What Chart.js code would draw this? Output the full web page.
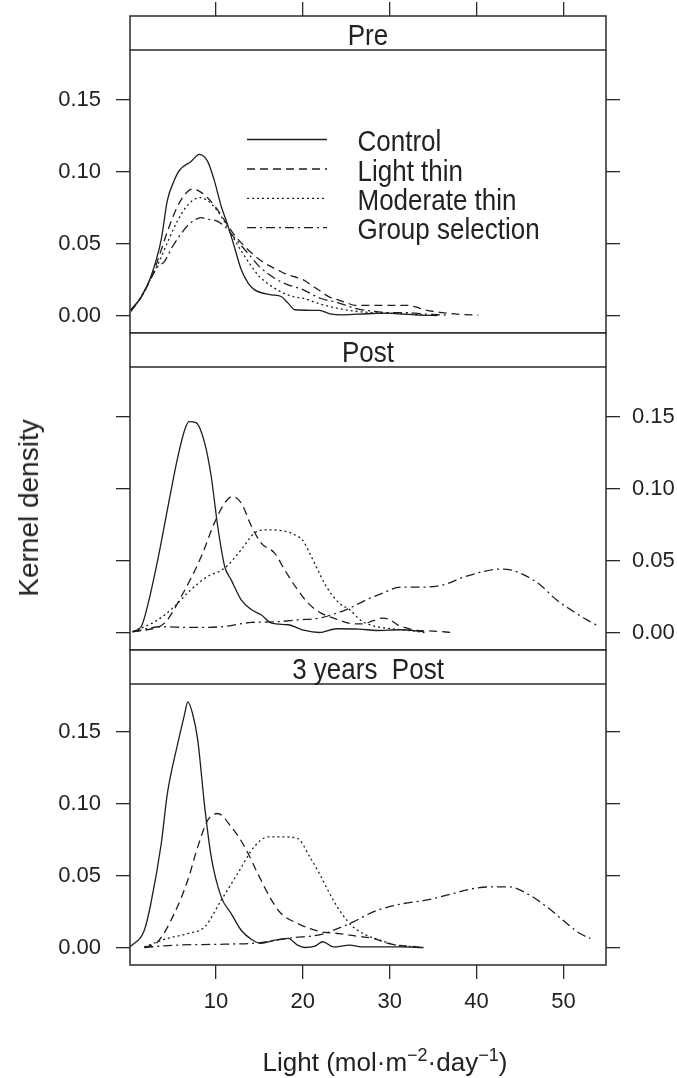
<!DOCTYPE html>
<html><head><meta charset="utf-8">
<script src="https://cdn.jsdelivr.net/npm/chart.js@4.4.1/dist/chart.umd.min.js"></script>
<style>
html,body{margin:0;padding:0;background:#fff;}
#wrap{position:relative;width:677px;height:1078px;overflow:hidden;background:#fff;}
#wrap canvas{position:absolute;left:0;top:0;}
.ttl{position:absolute;font-family:"Liberation Sans",Arial,sans-serif;color:#222;white-space:nowrap;line-height:1;}
#ytitle{left:29px;top:508px;font-size:28px;transform:translate(-50%,-50%) rotate(-90deg);}
#xtitle{left:385px;top:1062px;font-size:26px;transform:translate(-50%,-50%);}
#xtitle sup{font-size:18px;vertical-align:0.55em;line-height:0;}
</style></head>
<body><div id="wrap">
<canvas id="c0" width="677" height="1078"></canvas>
<canvas id="c1" width="677" height="1078"></canvas>
<canvas id="c2" width="677" height="1078"></canvas>
<div id="ytitle" class="ttl">Kernel density</div>
<div id="xtitle" class="ttl">Light (mol·m<sup>−2</sup>·day<sup>−1</sup>)</div>
</div>
<script>
const seriesNames = ['Control', 'Light thin', 'Moderate thin', 'Group selection'];
const panelTitles = ['Pre', 'Post', '3 years  Post'];
const xTickValues = [10, 20, 30, 40, 50];
const yTickValues = [0, 0.05, 0.10, 0.15];

// ---- Pre ----
const preControlX = [0.2, 1.4, 2.5, 3.7, 4.4, 5.2, 5.8, 7.1, 8.1, 9.05, 9.8, 10.6, 11.4, 12.1, 12.9, 13.7, 14.4, 16.4, 17.5, 18.3, 19.1, 21.9, 23.1, 24.6, 27.3, 29.6, 31.2, 33.5, 35.5];
const preControlY = [0.004, 0.013, 0.027, 0.053, 0.080, 0.094, 0.101, 0.107, 0.112, 0.107, 0.094, 0.076, 0.062, 0.048, 0.032, 0.0225, 0.018, 0.0144, 0.0132, 0.0086, 0.004, 0.0035, 0.0012, 0.0005, 0.0012, 0.0017, 0.0012, 0.0002, 0];
const preLightX = [0.2, 1.4, 2.6, 3.5, 4.5, 5.5, 6.4, 7.3, 8.2, 9, 10, 11, 12, 13, 14, 15, 16, 17, 18, 19, 20, 21, 22, 23, 24, 25, 26, 28, 30, 32, 33, 34, 36, 38, 40.2];
const preLightY = [0.003, 0.013, 0.027, 0.042, 0.060, 0.075, 0.084, 0.088, 0.086, 0.082, 0.075, 0.066, 0.057, 0.050, 0.044, 0.039, 0.035, 0.032, 0.029, 0.027, 0.025, 0.021, 0.017, 0.013, 0.011, 0.009, 0.007, 0.007, 0.007, 0.007, 0.006, 0.004, 0.002, 0.0008, 0.0003];
const preModerateX = [0.2, 1.4, 2.6, 3.5, 4.5, 5.5, 6.5, 7.3, 8.2, 9, 10, 11, 12, 13, 14, 15, 16, 17, 18, 19, 20, 22, 24, 26, 28, 30, 32, 34];
const preModerateY = [0.003, 0.013, 0.027, 0.038, 0.052, 0.065, 0.075, 0.080, 0.082, 0.080, 0.074, 0.065, 0.054, 0.044, 0.035, 0.027, 0.022, 0.018, 0.015, 0.013, 0.012, 0.008, 0.005, 0.003, 0.002, 0.0015, 0.001, 0.0003];
const preGroupX = [0.2, 1.4, 2.6, 3.4, 4.0, 5, 6, 7, 8.3, 9, 10, 11, 12, 13, 14, 15, 16, 17, 18, 19, 20, 22, 24, 26, 28, 30, 32, 34, 36.5];
const preGroupY = [0.003, 0.013, 0.027, 0.035, 0.037, 0.048, 0.057, 0.064, 0.068, 0.067, 0.066, 0.062, 0.055, 0.048, 0.041, 0.034, 0.029, 0.025, 0.022, 0.020, 0.018, 0.012, 0.009, 0.005, 0.003, 0.002, 0.002, 0.001, 0.0003];

// ---- Post ----
const postControlX = [0.4, 1.4, 2.1, 3.3, 4.4, 5.6, 6.4, 6.9, 7.7, 8.7, 9.45, 10.2, 11.0, 11.75, 12.9, 14.1, 15.2, 16.4, 18.3, 20.2, 21.9, 23.9, 26.5, 28.5, 31.2, 33.9];
const postControlY = [0.0007, 0.0042, 0.018, 0.0506, 0.0853, 0.122, 0.141, 0.1467, 0.146, 0.1317, 0.1085, 0.0737, 0.0459, 0.0366, 0.0227, 0.0158, 0.0123, 0.0065, 0.0054, 0.0014, 0, 0.0026, 0.0024, 0.0014, 0.0019, 0.0007];
const postLightX = [0.4, 2.2, 4.1, 6.0, 8.3, 9.8, 11.0, 11.9, 12.9, 14.1, 15.2, 16.75, 17.9, 19.4, 20.6, 22.1, 24, 26, 27, 28, 29.2, 30, 31, 32, 33, 35, 37.2];
const postLightY = [0.0005, 0.002, 0.0067, 0.025, 0.0528, 0.076, 0.09, 0.0946, 0.09, 0.0737, 0.0622, 0.0552, 0.0436, 0.0297, 0.0204, 0.0135, 0.009, 0.006, 0.006, 0.008, 0.010, 0.009, 0.005, 0.003, 0.0015, 0.001, 0];
const postModerateX = [0.4, 3.3, 5.2, 7.1, 9.05, 11.0, 12.9, 14.4, 15.6, 17.5, 19.05, 20.0, 20.8, 21.6, 22.7, 24.2, 25.4, 26.6, 27.7, 29.6, 32.3, 34];
const postModerateY = [0.0005, 0.0088, 0.018, 0.0297, 0.039, 0.0448, 0.0575, 0.069, 0.0714, 0.0709, 0.068, 0.064, 0.055, 0.045, 0.032, 0.0204, 0.0158, 0.0088, 0.0054, 0.003, 0.0014, 0];
const postGroupX = [0.4, 3.7, 6.9, 10.6, 14.1, 16.75, 19.5, 21.9, 23.9, 25.4, 27.3, 29.2, 31.2, 34.2, 36.2, 38.5, 40.8, 42.7, 43.9, 45.8, 47.3, 49.2, 51.15, 52.7, 53.9];
const postGroupY = [0.0005, 0.004, 0.0035, 0.004, 0.007, 0.0074, 0.0088, 0.010, 0.0135, 0.017, 0.0227, 0.0274, 0.0316, 0.0316, 0.0332, 0.0385, 0.0424, 0.0441, 0.0436, 0.039, 0.0332, 0.0227, 0.0146, 0.0088, 0.0049];

// ---- 3 years Post ----
const yr3ControlX = [0.1, 1.75, 2.5, 3.7, 4.4, 5.6, 6.4, 6.75, 7.3, 7.9, 8.7, 9.45, 10.6, 11.75, 12.9, 14.1, 15.2, 16.75, 18.3, 19.4, 20.2, 21.4, 22.3, 23.5, 25.4, 26.9, 31.2, 33.9];
const yr3ControlY = [0.0004, 0.012, 0.0306, 0.0723, 0.107, 0.1419, 0.1627, 0.1708, 0.1627, 0.1442, 0.0978, 0.063, 0.0352, 0.0236, 0.012, 0.0056, 0.0028, 0.0051, 0.0063, 0.0016, 0, 0.001, 0.004, 0.0004, 0.0016, 0.0004, 0.0004, 0];
const yr3LightX = [1.75, 3.3, 5.2, 6.75, 7.9, 9.05, 10.2, 11.75, 13.3, 14.8, 16.4, 17.5, 19.4, 21.4, 22.5, 24.2, 26.2, 28.1, 29.6, 31.2, 33.4];
const yr3LightY = [0, 0.004, 0.0236, 0.0468, 0.07, 0.0885, 0.0932, 0.0839, 0.07, 0.0515, 0.0329, 0.0236, 0.0167, 0.012, 0.0105, 0.0097, 0.0079, 0.0063, 0.0032, 0.0014, 0.0003];
const yr3ModerateX = [1.75, 4.4, 6.75, 8.7, 10.6, 12.5, 14.4, 16.0, 17.9, 19.4, 20.8, 21.9, 22.7, 23.5, 24.6, 25.8, 27.3, 28.9, 30.8, 33.4];
const yr3ModerateY = [0.0005, 0.0063, 0.0097, 0.0143, 0.0329, 0.0515, 0.07, 0.0769, 0.0769, 0.0758, 0.063, 0.0515, 0.042, 0.0329, 0.0225, 0.0143, 0.0086, 0.0051, 0.0016, 0.0005];
const yr3GroupX = [1.75, 5.2, 11, 14.8, 17.5, 19.05, 21, 22.5, 23.5, 25.8, 28.1, 31.2, 34.2, 37.3, 39.6, 41.5, 43.85, 45.8, 48.1, 50.4, 51.9, 53.1];
const yr3GroupY = [0, 0.0016, 0.0023, 0.0032, 0.0056, 0.007, 0.0079, 0.0097, 0.012, 0.0178, 0.0248, 0.0301, 0.0329, 0.0375, 0.041, 0.0421, 0.0421, 0.0375, 0.0282, 0.0167, 0.0097, 0.0063];

const FONT = '"Liberation Sans", Arial, sans-serif';
const INK = '#1e1e1e';
const dashes = [[], [8, 5], [2, 3], [9, 4, 2, 4]];
const pts = (xs, ys) => xs.map((x, i) => ({ x: x, y: ys[i] }));

const panelSeries = [
  [pts(preControlX, preControlY), pts(preLightX, preLightY), pts(preModerateX, preModerateY), pts(preGroupX, preGroupY)],
  [pts(postControlX, postControlY), pts(postLightX, postLightY), pts(postModerateX, postModerateY), pts(postGroupX, postGroupY)],
  [pts(yr3ControlX, yr3ControlY), pts(yr3LightX, yr3LightY), pts(yr3ModerateX, yr3ModerateY), pts(yr3GroupX, yr3GroupY)]
];

// panel geometry (pixel rows of each panel box incl. strip)
const panelTop = [16, 333, 650];
const panelBottom = [333, 650, 965];
const STRIP = 34;
const ZERO_OFF = 17.5; // pixels between panel bottom and y=0

function scaledText(ctx, txt, x, y, sy) {
  ctx.save(); ctx.translate(x, y); ctx.scale(1, sy); ctx.fillText(txt, 0, 0); ctx.restore();
}

const panelDeco = {
  id: 'panelDeco',
  afterDatasetsDraw(chart, args, opts) {
    const ctx = chart.ctx, a = chart.chartArea;
    ctx.save();
    ctx.fillStyle = '#fff';
    ctx.fillRect(a.left, a.top, a.right - a.left, STRIP);
    ctx.strokeStyle = '#2a2a2a'; ctx.lineWidth = 1.5;
    ctx.beginPath(); ctx.moveTo(a.left, a.top + STRIP); ctx.lineTo(a.right, a.top + STRIP); ctx.stroke();
    ctx.strokeRect(a.left, a.top, a.right - a.left, a.bottom - a.top);
    ctx.fillStyle = '#222'; ctx.font = '26px ' + FONT; ctx.textAlign = 'center'; ctx.textBaseline = 'alphabetic';
    scaledText(ctx, opts.title, (a.left + a.right) / 2, a.top + 29, 1.1);
    if (opts.legend) {
      const rows = [139.5, 169, 198.3, 227.6];
      ctx.textAlign = 'left';
      seriesNames.forEach((name, i) => {
        ctx.strokeStyle = INK; ctx.lineWidth = 1.3; ctx.setLineDash(dashes[i]);
        ctx.beginPath(); ctx.moveTo(247, rows[i]); ctx.lineTo(327, rows[i]); ctx.stroke();
        ctx.setLineDash([]);
        ctx.fillStyle = '#222';
        scaledText(ctx, name, 357.5, rows[i] + 11.5, 1.1);
      });
    }
    ctx.restore();
  }
};

function makePanel(k) {
  const yPerPx = 1 / 1438;
  const h = panelBottom[k] - panelTop[k];
  const yMin = -ZERO_OFF * yPerPx;
  const yMax = yMin + h * yPerPx;
  const fixTicks = s => { s.ticks = yTickValues.map(v => ({ value: v })); };
  const noPad = s => { s.paddingTop = 0; s.paddingBottom = 0; };
  const yTickFont = { family: FONT, size: 22 };
  const datasets = panelSeries[k].map((d, i) => ({
    label: seriesNames[i], data: d, borderColor: INK, borderWidth: 1.3,
    borderDash: dashes[i], pointRadius: 0, fill: false, cubicInterpolationMode: 'monotone'
  }));
  const xScale = {
    type: 'linear', min: 0.1, max: 54.9,
    position: k === 0 ? 'top' : 'bottom',
    display: k !== 1,
    afterBuildTicks: s => { s.ticks = xTickValues.map(v => ({ value: v })); },
    ticks: { display: k === 2, font: yTickFont, color: '#222', padding: 10, maxRotation: 0 },
    grid: { drawOnChartArea: false, drawTicks: true, tickLength: 14, color: '#2a2a2a', lineWidth: 1.3 },
    border: { display: false },
    afterFit: s => { s.height = k === 0 ? 16 : (k === 2 ? 113 : 0); s.paddingLeft = 0; s.paddingRight = 0; }
  };
  const cfg = {
    type: 'line',
    data: { datasets: datasets },
    options: {
      responsive: false, animation: false, devicePixelRatio: 1,
      layout: { padding: { left: 0, right: 0, top: k === 0 ? 0 : panelTop[k], bottom: k === 2 ? 0 : 1078 - panelBottom[k] } },
      plugins: { legend: { display: false }, tooltip: { enabled: false }, panelDeco: { title: panelTitles[k], legend: k === 0 } },
      scales: {
        x: xScale,
        y: {
          type: 'linear', position: 'left', min: yMin, max: yMax,
          afterBuildTicks: fixTicks,
          ticks: { display: k !== 1, font: yTickFont, color: '#222', padding: 15, callback: v => v.toFixed(2) },
          grid: { drawOnChartArea: false, drawTicks: true, tickLength: 14, color: '#2a2a2a', lineWidth: 1.3 },
          border: { display: false },
          afterFit: s => { s.width = 130; noPad(s); }
        },
        y2: {
          type: 'linear', position: 'right', min: yMin, max: yMax,
          afterBuildTicks: fixTicks,
          ticks: { display: k === 1, font: yTickFont, color: '#222', padding: 12, callback: v => v.toFixed(2) },
          grid: { drawOnChartArea: false, drawTicks: true, tickLength: 14, color: '#2a2a2a', lineWidth: 1.3 },
          border: { display: false },
          afterFit: s => { s.width = 71; noPad(s); }
        }
      }
    },
    plugins: [panelDeco]
  };
  return new Chart(document.getElementById('c' + k), cfg);
}
[0, 1, 2].forEach(makePanel);
</script>
</body></html>
